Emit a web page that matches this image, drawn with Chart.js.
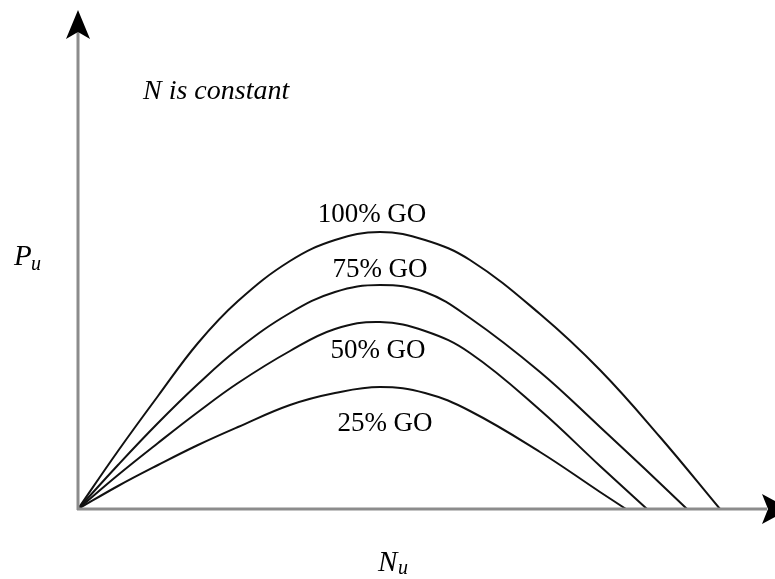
<!DOCTYPE html>
<html>
<head>
<meta charset="utf-8">
<script src="https://cdn.jsdelivr.net/npm/chart.js@4"></script>
<style>
  html, body { margin: 0; padding: 0; background: #fff; }
  #wrap { width: 775px; height: 579px; }
</style>
</head>
<body>
<div id="wrap"><canvas id="powerChart" width="775" height="579"></canvas></div>
<script>
// Values (Nu, Pu) in arbitrary units
const seriesNames = ['100% GO', '75% GO', '50% GO', '25% GO'];
const go100 = [[0, 0], [4, 5.8], [8, 11.3], [12, 16.6], [16, 20.8], [21.2, 24.8], [25.7, 26.9], [30.2, 27.7], [34.7, 26.9], [39.2, 24.9], [46.2, 19.5], [52.2, 13.9], [58.2, 7.2], [64.2, 0]];
const go75 = [[0, 0], [4, 4.4], [8, 8.6], [12, 12.5], [16, 16.0], [21.2, 19.6], [25.7, 21.7], [30.2, 22.4], [34.7, 21.7], [39.2, 19.1], [46.2, 13.7], [52.2, 8.2], [56.7, 4.0], [60.9, 0]];
const go50 = [[0, 0], [4, 3.4], [8, 6.6], [12, 9.7], [16, 12.6], [21.2, 15.8], [25.7, 18.0], [30.2, 18.7], [34.7, 17.8], [39.2, 15.6], [46.2, 9.9], [52.2, 4.3], [56.9, 0]];
const go25 = [[0, 0], [4, 2.3], [8, 4.4], [12, 6.4], [16, 8.2], [21.2, 10.4], [25.7, 11.6], [30.2, 12.2], [34.7, 11.6], [39.2, 9.8], [46.2, 5.7], [52.2, 1.7], [54.8, 0]];
const nuMax = 69.5;
const puMax = 49.9;

const toPoints = arr => arr.map(p => ({ x: p[0], y: p[1] }));

// Axes with arrowheads plus the text annotations
const axesAndText = {
    id: 'axesAndText',
    afterDatasetsDraw(chart) {
        const { ctx, scales: { x, y } } = chart;
        const x0 = x.getPixelForValue(0);
        const y0 = y.getPixelForValue(0);
        const yTop = y.getPixelForValue(puMax);
        const xEnd = x.getPixelForValue(nuMax);

        ctx.save();
        ctx.strokeStyle = '#8c8c8c';
        ctx.lineWidth = 3;
        ctx.beginPath();
        ctx.moveTo(x0, y0 + 1);
        ctx.lineTo(x0, yTop + 20);
        ctx.moveTo(x0 - 1, y0);
        ctx.lineTo(xEnd - 6, y0);
        ctx.stroke();

        // arrowheads
        ctx.fillStyle = '#000';
        ctx.beginPath();
        ctx.moveTo(x0, yTop);
        ctx.lineTo(x0 + 12, yTop + 29);
        ctx.lineTo(x0, yTop + 22);
        ctx.lineTo(x0 - 12, yTop + 29);
        ctx.closePath();
        ctx.fill();

        ctx.beginPath();
        ctx.moveTo(xEnd + 17, y0);
        ctx.lineTo(xEnd - 11, y0 - 15);
        ctx.lineTo(xEnd - 5, y0);
        ctx.lineTo(xEnd - 11, y0 + 15);
        ctx.closePath();
        ctx.fill();

        // curve labels
        ctx.fillStyle = '#000';
        ctx.textAlign = 'center';
        ctx.textBaseline = 'alphabetic';
        ctx.font = '27px "Liberation Serif", serif';
        ctx.fillText(seriesNames[0], 372, 222);
        ctx.fillText(seriesNames[1], 380, 277);
        ctx.fillText(seriesNames[2], 378, 358);
        ctx.fillText(seriesNames[3], 385, 431);

        // note and axis titles
        ctx.textAlign = 'left';
        ctx.font = 'italic 28px "Liberation Serif", serif';
        ctx.fillText('N is constant', 143, 99);

        ctx.font = 'italic 29px "Liberation Serif", serif';
        ctx.fillText('P', 14, 265);
        ctx.font = 'italic 20px "Liberation Serif", serif';
        ctx.fillText('u', 31, 270);

        ctx.font = 'italic 29px "Liberation Serif", serif';
        ctx.fillText('N', 378, 571);
        ctx.font = 'italic 20px "Liberation Serif", serif';
        ctx.fillText('u', 398, 574);
        ctx.restore();
    }
};

function makeSeries(label, arr) {
    return {
        label: label,
        data: toPoints(arr),
        borderColor: '#111',
        borderWidth: 2,
        pointRadius: 0,
        fill: false,
        tension: 0.4
    };
}

new Chart(document.getElementById('powerChart').getContext('2d'), {
    type: 'line',
    data: {
        datasets: [
            makeSeries(seriesNames[0], go100),
            makeSeries(seriesNames[1], go75),
            makeSeries(seriesNames[2], go50),
            makeSeries(seriesNames[3], go25)
        ]
    },
    options: {
        responsive: false,
        animation: false,
        layout: { padding: { left: 78, right: 2, top: 10, bottom: 70 } },
        plugins: { legend: { display: false }, tooltip: { enabled: false } },
        scales: {
            x: { type: 'linear', min: 0, max: nuMax, display: false },
            y: { min: 0, max: puMax, display: false }
        }
    },
    plugins: [axesAndText]
});
</script>
</body>
</html>
